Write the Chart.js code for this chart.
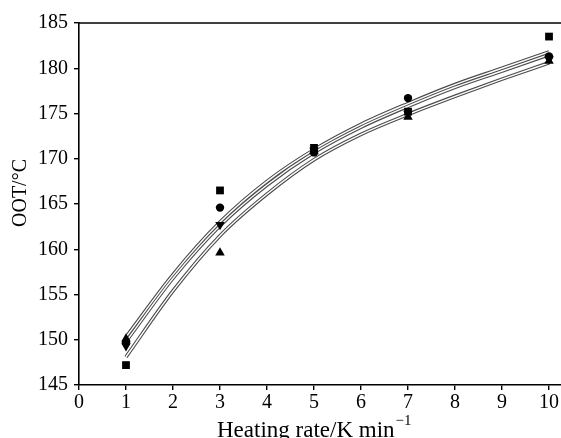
<!DOCTYPE html>
<html>
<head>
<meta charset="utf-8">
<script src="https://cdn.jsdelivr.net/npm/chart.js@4.4.1/dist/chart.umd.min.js"></script>
<style>
  html, body { margin: 0; padding: 0; background: #fff; }
  #wrap { width: 561px; height: 438px; position: relative; }
</style>
</head>
<body>
<div id="wrap"><canvas id="c" width="561" height="438"></canvas></div>
<script>
// Heating rates (K/min) at which OOT was measured
const heatingRates = [1, 3, 5, 7, 10];

// Measured OOT values (°C), one series per sample
const seriesSquare   = [147.2, 166.5, 171.2, 175.2, 183.5];
const seriesCircle   = [149.7, 164.6, 170.7, 176.7, 181.3];
const seriesTriUp    = [150.1, 159.6, 170.8, 174.6, 180.8];
const seriesTriDown  = [149.3, 162.7, 170.9, 175.0, 181.0];

// Fitted curves, sampled at each integer heating rate
const fitRates  = [1, 2, 3, 4, 5, 6, 7, 8, 9, 10];
const fitUpper  = [150.3, 157.2, 163.0, 167.5, 171.0, 173.8, 176.1, 178.2, 180.0, 181.8];
const fitMiddle = [149.8, 156.8, 162.6, 167.1, 170.7, 173.5, 175.8, 177.9, 179.7, 181.5];
const fitLower  = [148.1, 155.4, 161.5, 166.1, 169.9, 172.7, 174.9, 176.9, 178.8, 180.6];

// Axis ticks
const xTicks = [0, 1, 2, 3, 4, 5, 6, 7, 8, 9, 10];
const yTicks = [145, 150, 155, 160, 165, 170, 175, 180, 185];

const FONT = '"Liberation Serif", "Times New Roman", serif';

const pts = (xs, ys) => xs.map((x, i) => ({ x: x, y: ys[i] }));

function markerSet(data, style, rotation) {
  return {
    type: 'scatter',
    data: pts(heatingRates, data),
    pointStyle: style,
    rotation: rotation || 0,
    pointRadius: style === 'rect' ? 5.5 : (style === 'circle' ? 4.2 : 5.5),
    pointBackgroundColor: '#000',
    pointBorderColor: '#000',
    pointBorderWidth: 0,
    showLine: false,
    order: 0
  };
}

// Each fitted curve is drawn as a hollow line: dark outer stroke, white core
function curvePair(data) {
  const base = {
    type: 'line',
    data: pts(fitRates, data),
    pointRadius: 0,
    fill: false,
    cubicInterpolationMode: 'monotone'
  };
  return [
    Object.assign({}, base, { borderColor: '#4a4a4a', borderWidth: 3.6, order: 2 }),
    Object.assign({}, base, { borderColor: '#ffffff', borderWidth: 1.4, order: 1 })
  ];
}

const frameAndTitles = {
  id: 'frameAndTitles',
  afterDraw(chart) {
    const ctx = chart.ctx;
    const a = chart.chartArea;
    ctx.save();
    // top frame line
    ctx.strokeStyle = '#000';
    ctx.lineWidth = 1.6;
    ctx.beginPath();
    ctx.moveTo(a.left, a.top);
    ctx.lineTo(561, a.top);
    ctx.stroke();

    ctx.fillStyle = '#000';
    // y-axis title
    ctx.save();
    ctx.translate(26, 193);
    ctx.rotate(-Math.PI / 2);
    ctx.font = '20px ' + FONT;
    ctx.textAlign = 'center';
    ctx.textBaseline = 'alphabetic';
    ctx.fillText('OOT/°C', 0, 0);
    ctx.restore();

    // x-axis title with superscript
    ctx.textBaseline = 'alphabetic';
    ctx.textAlign = 'left';
    const main = 'Heating rate/K min';
    ctx.font = '23px ' + FONT;
    const wMain = ctx.measureText(main).width;
    const x0 = 217;
    ctx.fillText(main, x0, 437);
    ctx.font = '15px ' + FONT;
    ctx.fillText('\u22121', x0 + wMain + 1, 425);
    ctx.restore();
  }
};

new Chart(document.getElementById('c'), {
  data: {
    datasets: [
      markerSet(seriesSquare, 'rect'),
      markerSet(seriesCircle, 'circle'),
      markerSet(seriesTriUp, 'triangle'),
      markerSet(seriesTriDown, 'triangle', 180),
      ...curvePair(fitUpper),
      ...curvePair(fitMiddle),
      ...curvePair(fitLower)
    ]
  },
  options: {
    responsive: false,
    animation: false,
    events: [],
    layout: { autoPadding: false, padding: { top: 23, right: 0, left: 0, bottom: 0 } },
    plugins: { legend: { display: false }, tooltip: { enabled: false } },
    scales: {
      x: {
        type: 'linear',
        min: 0,
        max: 10.255,
        afterBuildTicks(s) { s.ticks = xTicks.map(v => ({ value: v })); },
        afterFit(s) { s.height = 53; },
        ticks: {
          color: '#000',
          font: { family: FONT, size: 20 },
          padding: 1,
          maxRotation: 0,
          autoSkip: false
        },
        grid: { drawOnChartArea: false, drawTicks: true, tickLength: 5, color: '#000', lineWidth: 1.4 },
        border: { display: true, color: '#000', width: 1.6 }
      },
      y: {
        type: 'linear',
        min: 145,
        max: 185,
        afterBuildTicks(s) { s.ticks = yTicks.map(v => ({ value: v })); },
        afterFit(s) { s.width = 79; },
        ticks: {
          color: '#000',
          font: { family: FONT, size: 20 },
          padding: 6
        },
        grid: { drawOnChartArea: false, drawTicks: true, tickLength: 5, color: '#000', lineWidth: 1.4 },
        border: { display: true, color: '#000', width: 1.6 }
      }
    }
  },
  plugins: [frameAndTitles]
});
</script>
</body>
</html>
